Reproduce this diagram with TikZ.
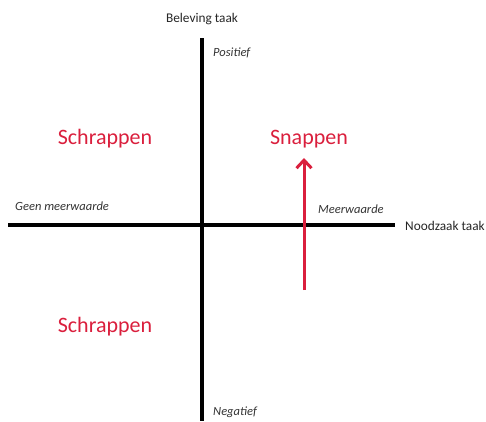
\documentclass[tikz,border=0pt]{standalone}
\usepackage{fontspec}
\setmainfont{Carlito}
\usetikzlibrary{arrows.meta}
\definecolor{snapred}{RGB}{218,31,61}

\begin{document}
\begin{tikzpicture}[x=1pt, y=-1pt,
    axis/.style={line width=4pt},
    tag/.style={font=\fontsize{12.5}{14}\selectfont\itshape, text=black!80, inner sep=0pt},
    axlabel/.style={font=\fontsize{13.3}{15}\selectfont, text=black!85, inner sep=0pt},
    verdict/.style={font=\fontsize{22}{24}\selectfont, text=snapred, inner sep=0pt}]
  \useasboundingbox (0,0) rectangle (486,421);

  \coordinate (T) at (202,38);
  \coordinate (B) at (202,421);
  \coordinate (L) at (8,225);
  \coordinate (R) at (395,225);
  \coordinate (S) at (304,290);
  \coordinate (E) at (304,158);

  \draw[axis] (T) -- (B);
  \draw[axis] (L) -- (R);
  \draw[snapred, line width=3pt, -{Straight Barb[length=8pt, width=15pt, line width=3pt]}] (S) -- (E);

  \node[axlabel] (beleving) at (202,19) {Beleving taak};
  \node[axlabel, anchor=west] (noodzaak) at (405,226) {Noodzaak taak};
  \node[tag, anchor=west] (pos) at (213,53) {Positief};
  \node[tag, anchor=west] (neg) at (213,412) {Negatief};
  \node[tag, anchor=west] (geen) at (15,206) {Geen meerwaarde};
  \node[tag, anchor=west] (meer) at (318,209) {Meerwaarde};
  \node[verdict] (schrapTop) at (105,139) {Schrappen};
  \node[verdict] (snap) at (309,139) {Snappen};
  \node[verdict] (schrapBot) at (105,327) {Schrappen};
\end{tikzpicture}
\end{document}
